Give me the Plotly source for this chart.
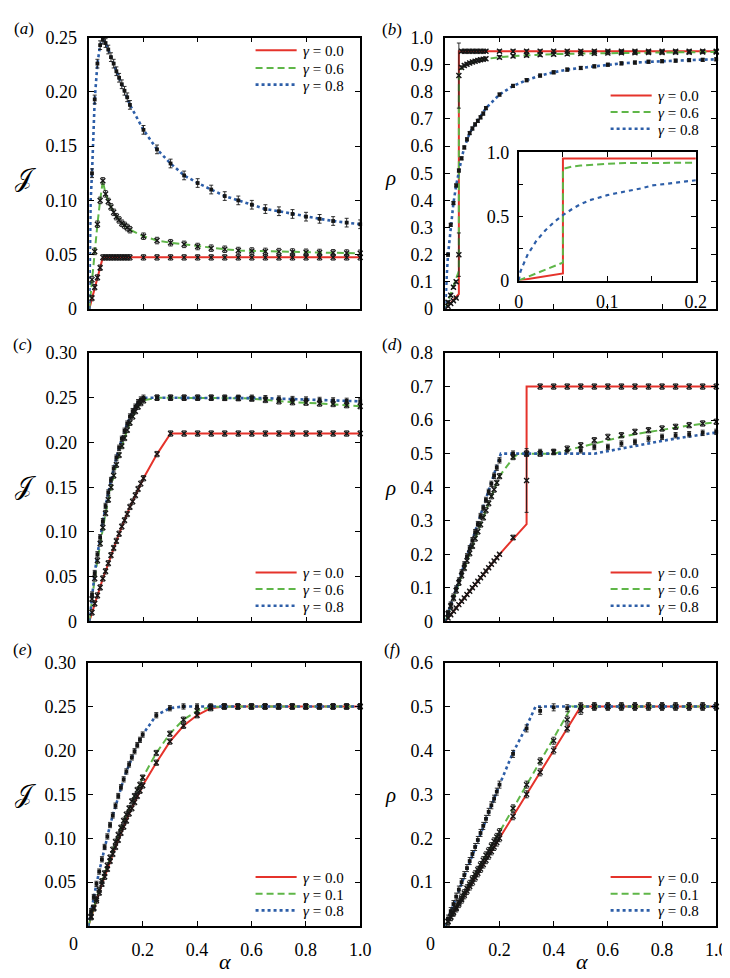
import plotly.graph_objects as go

SERIF = "Liberation Serif, Times New Roman, Times, serif"
W, H = 730, 978
RED, GREEN, BLUE = "#e5332b", "#5fb648", "#2d5ea8"

# ---------------- alpha grids ----------------
ALPHA_A = [0.01, 0.02, 0.03, 0.04, 0.05, 0.06, 0.07, 0.08, 0.09, 0.10, 0.11, 0.12, 0.13, 0.14, 0.15,
           0.20, 0.25, 0.30, 0.35, 0.40, 0.45, 0.50, 0.55, 0.60, 0.65, 0.70, 0.75, 0.80, 0.85, 0.90, 0.95, 1.00]
ALPHA_C = [0.01, 0.02, 0.03, 0.04, 0.05, 0.06, 0.07, 0.08, 0.09, 0.10, 0.11, 0.12, 0.13, 0.14, 0.15,
           0.16, 0.17, 0.18, 0.19, 0.20,
           0.25, 0.30, 0.35, 0.40, 0.45, 0.50, 0.55, 0.60, 0.65, 0.70, 0.75, 0.80, 0.85, 0.90, 0.95, 1.00]

# ---------------- panel (a): J ----------------
A_G00 = [0.010, 0.020, 0.029, 0.038, 0.0475, 0.0475, 0.0475, 0.0475, 0.0475, 0.0475, 0.0475, 0.0475, 0.0475, 0.0475, 0.0475,
         0.0475, 0.0475, 0.0475, 0.0475, 0.0475, 0.0475, 0.0475, 0.0475, 0.0475, 0.0475, 0.0475, 0.0475, 0.0475, 0.0475, 0.0475, 0.0475, 0.0475]
A_G06 = [0.027, 0.053, 0.078, 0.100, 0.118, 0.106, 0.099, 0.094, 0.089, 0.085, 0.082, 0.079, 0.077, 0.075, 0.073,
         0.067, 0.063, 0.061, 0.0595, 0.0575, 0.056, 0.055, 0.0538, 0.0534, 0.053, 0.0528, 0.0525, 0.0522, 0.052, 0.0517, 0.0515, 0.0513]
A_G08 = [0.125, 0.193, 0.226, 0.243, 0.248, 0.245, 0.239, 0.232, 0.226, 0.219, 0.213, 0.207, 0.201, 0.195, 0.188,
         0.165, 0.147, 0.134, 0.123, 0.116, 0.110, 0.104, 0.100, 0.096, 0.092, 0.090, 0.0875, 0.085, 0.083, 0.081, 0.0795, 0.078]
A_LINE00_X = [0, 0.05, 1.0]
A_LINE00_Y = [0, 0.0475, 0.0475]
A_START08_X = [0, 0.002, 0.005]
A_START08_Y = [0, 0.06, 0.10]

# ---------------- panel (b): rho ----------------
B_G00 = [0.010, 0.020, 0.030, 0.040, 0.86, 0.95, 0.95, 0.95, 0.95, 0.95, 0.95, 0.95, 0.95, 0.95, 0.95,
         0.95, 0.95, 0.95, 0.95, 0.95, 0.95, 0.95, 0.95, 0.95, 0.95, 0.95, 0.95, 0.95, 0.95, 0.95, 0.95, 0.95]
B_G00_ERR = [0.003, 0.003, 0.003, 0.003, 0.12, 0.005, 0.005, 0.005, 0.005, 0.005, 0.005, 0.005, 0.005, 0.005, 0.005,
             0.005, 0.005, 0.005, 0.005, 0.005, 0.005, 0.005, 0.005, 0.005, 0.005, 0.005, 0.005, 0.005, 0.005, 0.005, 0.005, 0.005]
B_G06 = [0.025, 0.050, 0.080, 0.100, 0.200, 0.890, 0.897, 0.902, 0.906, 0.910, 0.913, 0.916, 0.918, 0.920, 0.922,
         0.928, 0.932, 0.935, 0.937, 0.939, 0.940, 0.941, 0.942, 0.943, 0.944, 0.944, 0.945, 0.945, 0.946, 0.946, 0.947, 0.947]
B_G06_ERR = [0.005, 0.005, 0.005, 0.005, 0.08, 0.006, 0.006, 0.006, 0.006, 0.006, 0.006, 0.006, 0.006, 0.006, 0.006,
             0.006, 0.006, 0.006, 0.006, 0.006, 0.006, 0.006, 0.006, 0.006, 0.006, 0.006, 0.006, 0.006, 0.006, 0.006, 0.006, 0.006]
B_G08 = [0.20, 0.31, 0.39, 0.455, 0.51, 0.555, 0.595, 0.625, 0.648, 0.665, 0.680, 0.693, 0.706, 0.720, 0.740,
         0.790, 0.822, 0.843, 0.860, 0.872, 0.882, 0.888, 0.894, 0.900, 0.905, 0.908, 0.911, 0.913, 0.915, 0.917, 0.918, 0.920]
B_LINE00_X = [0, 0.05, 0.05, 1.0]
B_LINE00_Y = [0, 0.055, 0.95, 0.95]
B_LINE06_X = [0, 0.05, 0.05, 0.06, 0.07, 0.08, 0.10, 0.12, 0.15, 0.20, 0.25, 0.30, 0.40, 0.50, 0.60, 0.70, 0.80, 0.90, 1.00]
B_LINE06_Y = [0, 0.14, 0.87, 0.888, 0.896, 0.902, 0.909, 0.915, 0.921, 0.928, 0.932, 0.935, 0.939, 0.941, 0.943, 0.944, 0.945, 0.946, 0.947]
B_START08_X = [0, 0.002, 0.005]
B_START08_Y = [0, 0.07, 0.12]

# ---------------- panel (c): J ----------------
C_G00 = [0.010, 0.020, 0.029, 0.038, 0.048, 0.056, 0.065, 0.074, 0.082, 0.090, 0.098, 0.106, 0.113, 0.120, 0.128,
         0.134, 0.141, 0.148, 0.154, 0.160,
         0.187, 0.210, 0.210, 0.210, 0.210, 0.210, 0.210, 0.210, 0.210, 0.210, 0.210, 0.210, 0.210, 0.210, 0.210, 0.210]
C_G06 = [0.025, 0.048, 0.068, 0.087, 0.105, 0.121, 0.136, 0.150, 0.163, 0.175, 0.186, 0.196, 0.205, 0.214, 0.222,
         0.229, 0.235, 0.240, 0.244, 0.247,
         0.250, 0.250, 0.250, 0.250, 0.250, 0.2498, 0.2495, 0.249, 0.2475, 0.246, 0.245, 0.2445, 0.2435, 0.243, 0.2417, 0.2406]
C_G08 = [0.030, 0.054, 0.075, 0.094, 0.112, 0.129, 0.144, 0.158, 0.171, 0.183, 0.194, 0.204, 0.213, 0.221, 0.229,
         0.235, 0.240, 0.245, 0.248, 0.250,
         0.250, 0.250, 0.250, 0.250, 0.250, 0.250, 0.250, 0.250, 0.2495, 0.249, 0.2485, 0.248, 0.2475, 0.247, 0.2465, 0.246]

# ---------------- panel (d): rho ----------------
D_G00 = [0.010, 0.020, 0.030, 0.040, 0.050, 0.060, 0.070, 0.080, 0.090, 0.100, 0.110, 0.120, 0.130, 0.140, 0.150,
         0.160, 0.170, 0.180, 0.190, 0.200,
         0.250, 0.420, 0.700, 0.700, 0.700, 0.700, 0.700, 0.700, 0.700, 0.700, 0.700, 0.700, 0.700, 0.700, 0.700, 0.700]
D_G00_ERR = [0.003, 0.003, 0.003, 0.003, 0.003, 0.003, 0.003, 0.003, 0.003, 0.003, 0.003, 0.003, 0.003, 0.003, 0.003,
             0.003, 0.003, 0.003, 0.003, 0.003,
             0.007, 0.095, 0.008, 0.008, 0.008, 0.008, 0.008, 0.008, 0.008, 0.008, 0.008, 0.008, 0.008, 0.008, 0.008, 0.008]
D_G06 = [0.023, 0.046, 0.069, 0.092, 0.115, 0.137, 0.159, 0.181, 0.203, 0.225, 0.247, 0.268, 0.289, 0.310, 0.331,
         0.352, 0.373, 0.393, 0.413, 0.433,
         0.490, 0.500, 0.500, 0.505, 0.515, 0.525, 0.540, 0.550, 0.555, 0.565, 0.570, 0.575, 0.580, 0.585, 0.590, 0.595]
D_G08 = [0.025, 0.050, 0.074, 0.098, 0.122, 0.146, 0.170, 0.194, 0.218, 0.242, 0.266, 0.290, 0.314, 0.338, 0.362,
         0.386, 0.410, 0.434, 0.458, 0.480,
         0.500, 0.500, 0.505, 0.505, 0.510, 0.510, 0.520, 0.520, 0.530, 0.535, 0.545, 0.550, 0.555, 0.558, 0.562, 0.565]
D_LINE00_X = [0, 0.20, 0.25, 0.30, 0.30, 1.00]
D_LINE00_Y = [0, 0.20, 0.245, 0.29, 0.70, 0.70]
D_LINE06_X = [0, 0.05, 0.10, 0.15, 0.20, 0.25, 0.27, 0.40, 0.45, 0.50, 0.55, 0.60, 0.65, 0.70, 0.75, 0.80, 0.85, 0.90, 0.95, 1.00]
D_LINE06_Y = [0, 0.115, 0.225, 0.331, 0.433, 0.487, 0.500, 0.500, 0.510, 0.522, 0.532, 0.541, 0.550, 0.558, 0.565, 0.572, 0.578, 0.584, 0.589, 0.594]
D_LINE08_X = [0, 0.10, 0.20, 0.205, 0.55, 0.60, 0.65, 0.70, 0.75, 0.80, 0.85, 0.90, 0.95, 1.00]
D_LINE08_Y = [0, 0.245, 0.49, 0.50, 0.50, 0.508, 0.516, 0.524, 0.531, 0.538, 0.545, 0.551, 0.557, 0.563]

# ---------------- panel (e): J ----------------
E_G00 = [0.010, 0.020, 0.029, 0.038, 0.048, 0.056, 0.065, 0.074, 0.082, 0.090, 0.098, 0.106, 0.113, 0.120, 0.128,
         0.134, 0.141, 0.148, 0.154, 0.160,
         0.186, 0.210, 0.228, 0.240, 0.248, 0.250, 0.250, 0.250, 0.250, 0.250, 0.250, 0.250, 0.250, 0.250, 0.250, 0.250]
E_G01 = [0.011, 0.021, 0.031, 0.041, 0.051, 0.060, 0.069, 0.078, 0.087, 0.096, 0.104, 0.112, 0.120, 0.127, 0.134,
         0.142, 0.148, 0.155, 0.161, 0.169,
         0.197, 0.219, 0.235, 0.245, 0.2495, 0.250, 0.250, 0.250, 0.250, 0.250, 0.250, 0.250, 0.250, 0.250, 0.250, 0.250]
E_G08 = [0.017, 0.033, 0.048, 0.062, 0.076, 0.090, 0.102, 0.115, 0.126, 0.137, 0.148, 0.158, 0.167, 0.176, 0.184,
         0.192, 0.199, 0.206, 0.212, 0.218,
         0.240, 0.248, 0.250, 0.250, 0.250, 0.250, 0.250, 0.250, 0.250, 0.250, 0.250, 0.250, 0.250, 0.250, 0.250, 0.250]

# ---------------- panel (f): rho ----------------
F_G00 = [0.010, 0.020, 0.030, 0.040, 0.050, 0.060, 0.070, 0.080, 0.090, 0.100, 0.110, 0.120, 0.130, 0.140, 0.150,
         0.160, 0.170, 0.180, 0.190, 0.200,
         0.250, 0.300, 0.350, 0.400, 0.450, 0.490, 0.500, 0.500, 0.500, 0.500, 0.500, 0.500, 0.500, 0.500, 0.500, 0.500]
F_G01 = [0.011, 0.021, 0.032, 0.043, 0.054, 0.064, 0.075, 0.086, 0.096, 0.107, 0.118, 0.128, 0.139, 0.150, 0.161,
         0.171, 0.182, 0.193, 0.203, 0.214,
         0.268, 0.322, 0.375, 0.422, 0.470, 0.500, 0.500, 0.500, 0.500, 0.500, 0.500, 0.500, 0.500, 0.500, 0.500, 0.500]
F_G08 = [0.017, 0.034, 0.050, 0.067, 0.083, 0.100, 0.116, 0.132, 0.148, 0.164, 0.180, 0.196, 0.212, 0.228, 0.244,
         0.260, 0.275, 0.290, 0.306, 0.322,
         0.392, 0.450, 0.490, 0.498, 0.496, 0.500, 0.500, 0.500, 0.500, 0.500, 0.500, 0.500, 0.500, 0.500, 0.500, 0.500]
F_LINE00_X = [0, 0.5, 1.0]
F_LINE00_Y = [0, 0.5, 0.5]
F_LINE01_X = [0, 0.467, 1.0]
F_LINE01_Y = [0, 0.5, 0.5]
F_LINE08_X = [0, 0.20, 0.25, 0.30, 0.333, 1.0]
F_LINE08_Y = [0, 0.322, 0.395, 0.455, 0.5, 0.5]

# legend labels per panel
LEG_AD = ["0.0", "0.6", "0.8"]
LEG_EF = ["0.0", "0.1", "0.8"]

fig = go.Figure()

STYLE = {
    "r": dict(color=RED, dash="solid", width=2),
    "g": dict(color=GREEN, dash="7px,4px", width=2),
    "b": dict(color=BLUE, dash="dot", width=2.6),
}


def ax_ids(n):
    return ("x", "y") if n == 1 else ("x%d" % n, "y%d" % n)


def add_line(n, x, y, kind, line=None):
    xa, ya = ax_ids(n)
    fig.add_trace(go.Scatter(
        x=x, y=y, mode="lines", line=line or STYLE[kind], xaxis=xa, yaxis=ya,
        showlegend=False, hoverinfo="skip"))


def add_pts(n, x, y, err, kind):
    xa, ya = ax_ids(n)
    if isinstance(err, list):
        ey = dict(type="data", array=err, color="#1a1a1a", thickness=0.9, width=2)
    else:
        ey = dict(type="constant", value=err, color="#1a1a1a", thickness=0.9, width=2)
    if kind == "b":
        mk = dict(symbol="square", size=3.8, color="#151515", line=dict(width=0))
    else:
        mk = dict(symbol="x-thin", size=5, color="#151515", line=dict(width=1.4, color="#151515"))
    fig.add_trace(go.Scatter(x=x, y=y, mode="markers", marker=mk, error_y=ey,
                             xaxis=xa, yaxis=ya, showlegend=False, cliponaxis=False,
                             hoverinfo="skip"))


# panel a (1)
add_line(1, A_LINE00_X, A_LINE00_Y, "r")
add_line(1, [0] + ALPHA_A, [0] + A_G06, "g")
add_line(1, A_START08_X + ALPHA_A, A_START08_Y + A_G08, "b")
add_pts(1, ALPHA_A, A_G00, 0.0025, "r")
add_pts(1, ALPHA_A, A_G06, 0.003, "g")
add_pts(1, ALPHA_A, A_G08, 0.004, "b")

# panel b (2)
add_line(2, B_LINE00_X, B_LINE00_Y, "r")
add_line(2, B_LINE06_X, B_LINE06_Y, "g")
add_line(2, B_START08_X + ALPHA_A, B_START08_Y + B_G08, "b")
add_pts(2, ALPHA_A, B_G00, B_G00_ERR, "r")
add_pts(2, ALPHA_A, B_G06, B_G06_ERR, "g")
add_pts(2, ALPHA_A, B_G08, 0.006, "b")

# inset (7)
add_line(7, B_LINE00_X, B_LINE00_Y, "r", line=dict(color=RED, width=2))
add_line(7, B_LINE06_X, B_LINE06_Y, "g", line=dict(color=GREEN, width=2, dash="7px,4px"))
add_line(7, B_START08_X + ALPHA_A, B_START08_Y + B_G08, "b", line=dict(color=BLUE, width=2.2, dash="4px,4px"))

# panel c (3)
add_line(3, [0] + ALPHA_C, [0] + C_G00, "r")
add_line(3, [0] + ALPHA_C, [0] + C_G06, "g")
add_line(3, [0] + ALPHA_C, [0] + C_G08, "b")
add_pts(3, ALPHA_C, C_G00, 0.003, "r")
add_pts(3, ALPHA_C, C_G06, 0.003, "g")
add_pts(3, ALPHA_C, C_G08, 0.003, "b")

# panel d (4)
add_line(4, D_LINE00_X, D_LINE00_Y, "r")
add_line(4, D_LINE06_X, D_LINE06_Y, "g")
add_line(4, D_LINE08_X, D_LINE08_Y, "b")
add_pts(4, ALPHA_C, D_G00, D_G00_ERR, "r")
add_pts(4, ALPHA_C, D_G06, 0.008, "g")
add_pts(4, ALPHA_C, D_G08, 0.008, "b")

# panel e (5)
add_line(5, [0] + ALPHA_C, [0] + E_G00, "r")
add_line(5, [0] + ALPHA_C, [0] + E_G01, "g")
add_line(5, [0] + ALPHA_C, [0] + E_G08, "b")
add_pts(5, ALPHA_C, E_G00, 0.003, "r")
add_pts(5, ALPHA_C, E_G01, 0.003, "g")
add_pts(5, ALPHA_C, E_G08, 0.003, "b")

# panel f (6)
add_line(6, F_LINE00_X, F_LINE00_Y, "r")
add_line(6, F_LINE01_X, F_LINE01_Y, "g")
add_line(6, F_LINE08_X, F_LINE08_Y, "b")
add_pts(6, ALPHA_C, F_G00, 0.008, "r")
add_pts(6, ALPHA_C, F_G01, 0.008, "g")
add_pts(6, ALPHA_C, F_G08, 0.008, "b")


def px_x(a, b):
    return [a / W, b / W]


def px_y(top, bottom):
    return [1 - bottom / H, 1 - top / H]


def axis(domain, rng, tickvals, ticktext, anchor, show=True, size=18, standoff=7):
    return dict(domain=domain, range=rng, tickvals=tickvals, ticktext=ticktext,
                showticklabels=show, ticks="inside", ticklen=5, tickwidth=1, tickcolor="black",
                showline=True, linewidth=1.5, linecolor="black", mirror="ticks",
                showgrid=False, zeroline=False, anchor=anchor, fixedrange=True,
                ticklabelstandoff=standoff,
                tickfont=dict(family=SERIF, size=size, color="black"))


XT = [0, 0.2, 0.4, 0.6, 0.8, 1.0]
XTT = ["0", "0.2", "0.4", "0.6", "0.8", "1.0"]
XTT_BOTTOM = ["", "0.2", "0.4", "0.6", "0.8", "1.0"]
LEFT, RIGHT = px_x(78, 355), px_x(442, 719)
ROW1, ROW2, ROW3 = px_y(20, 297), px_y(342, 616), px_y(658, 927)

layout = dict(
    width=W, height=H, autosize=False, margin=dict(l=0, r=0, t=0, b=0),
    paper_bgcolor="white", plot_bgcolor="white", showlegend=False,
    xaxis=axis(LEFT, [0, 1], XT, XTT, "y", show=False),
    yaxis=axis(ROW1, [0, 0.25], [0, 0.05, 0.10, 0.15, 0.20, 0.25],
               ["0", "0.05", "0.10", "0.15", "0.20", "0.25"], "x"),
    xaxis2=axis(RIGHT, [0, 1], XT, XTT, "y2", show=False),
    yaxis2=axis(ROW1, [0, 1], [0, 0.1, 0.2, 0.3, 0.4, 0.5, 0.6, 0.7, 0.8, 0.9, 1.0],
                ["0", "0.1", "0.2", "0.3", "0.4", "0.5", "0.6", "0.7", "0.8", "0.9", "1.0"], "x2"),
    xaxis3=axis(LEFT, [0, 1], XT, XTT, "y3", show=False),
    yaxis3=axis(ROW2, [0, 0.3], [0, 0.05, 0.10, 0.15, 0.20, 0.25, 0.30],
                ["0", "0.05", "0.10", "0.15", "0.20", "0.25", "0.30"], "x3"),
    xaxis4=axis(RIGHT, [0, 1], XT, XTT, "y4", show=False),
    yaxis4=axis(ROW2, [0, 0.8], [0, 0.1, 0.2, 0.3, 0.4, 0.5, 0.6, 0.7, 0.8],
                ["0", "0.1", "0.2", "0.3", "0.4", "0.5", "0.6", "0.7", "0.8"], "x4"),
    xaxis5=axis(px_x(77, 355), [0, 1], XT, XTT_BOTTOM, "y5"),
    yaxis5=axis(ROW3, [0, 0.3], [0.05, 0.10, 0.15, 0.20, 0.25, 0.30],
                ["0.05", "0.10", "0.15", "0.20", "0.25", "0.30"], "x5"),
    xaxis6=axis(RIGHT, [0, 1], XT, XTT_BOTTOM, "y6"),
    yaxis6=axis(ROW3, [0, 0.6], [0.1, 0.2, 0.3, 0.4, 0.5, 0.6],
                ["0.1", "0.2", "0.3", "0.4", "0.5", "0.6"], "x6"),
    xaxis7=axis(px_x(517, 698), [0, 0.2], [0, 0.05, 0.1, 0.15, 0.2], ["0", "", "0.1", "", "0.2"], "y7",
                standoff=4),
    yaxis7=axis(px_y(137, 268), [0, 1], [0, 0.25, 0.5, 0.75, 1.0], ["0", "", "0.5", "", "1.0"], "x7",
                standoff=4),
)

ann = []
shapes = []


def text(xp, yp, s, size, anchor="center", pad=1):
    ann.append(dict(x=xp / W, y=1 - yp / H, xref="paper", yref="paper", text=s, showarrow=False,
                    font=dict(family=SERIF, size=size, color="black"), xanchor=anchor, yanchor="middle",
                    borderpad=pad))


# hand-placed legends (key line + label), one per panel
KEY_STYLES = [dict(color=RED, width=2), dict(color=GREEN, width=2, dash="7px,4px"),
              dict(color=BLUE, width=2.6, dash="dot")]


def legend(x0, rows, labels):
    for yp, lab, st in zip(rows, labels, KEY_STYLES):
        shapes.append(dict(type="line", xref="paper", yref="paper",
                           x0=x0 / W, x1=(x0 + 42) / W, y0=1 - yp / H, y1=1 - yp / H, line=st))
        text(x0 + 47, yp + 1, "<i>γ</i> = " + lab, 15, anchor="left", pad=0)


legend(248, [33, 51, 68], LEG_AD)
legend(611, [79, 96, 113], LEG_AD)
legend(248, [566, 583, 600], LEG_AD)
legend(611, [566, 583, 600], LEG_AD)
legend(248, [877, 894, 911], LEG_EF)
legend(611, [877, 894, 911], LEG_EF)

for lab, xp, yp in [("a", 11, 11), ("b", 387, 12), ("c", 10, 333), ("d", 387, 333), ("e", 10, 645), ("f", 387, 645)]:
    text(xp, yp, "(<i>%s</i>)" % lab, 17)
# shared corner zero of the bottom panels
text(62, 945, "0", 18)
text(427, 945, "0", 18)
for yp in (163, 478, 792):
    text(13, yp, "𝒥", 25)
for yp in (163, 480, 793):
    text(386, yp, "<i>ρ</i>", 21)
text(217, 963, "<i>α</i>", 22)
text(582, 963, "<i>α</i>", 22)
layout["annotations"] = ann
layout["shapes"] = shapes

fig.update_layout(**layout)
fig.write_html("out.html")
